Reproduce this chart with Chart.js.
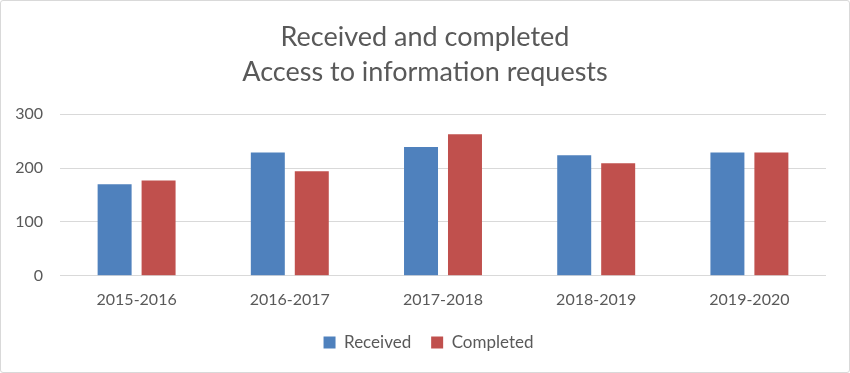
<!DOCTYPE html>
<html>
<head>
<meta charset="utf-8">
<script src="https://cdn.jsdelivr.net/npm/chart.js@4"></script>
<style>
html,body{margin:0;padding:0;background:#fff;}
#wrap{position:absolute;left:0;top:0;width:848px;height:371px;border:1px solid #d9d9d9;border-radius:3px;}
canvas{display:block;}
</style>
</head>
<body>
<div id="wrap"><canvas id="c" width="848" height="371"></canvas></div>
<script>
const categories = ["2015-2016","2016-2017","2017-2018","2018-2019","2019-2020"];
const received = [170, 229, 239, 224, 229];
const completed = [177, 194, 263, 209, 229];
const titleLines = ["Received and completed","Access to information requests"];
const yTicks = [0, 100, 200, 300];

const FONT = "Lato, 'Open Sans', sans-serif";

// Nudge title and legend boxes so they are centred like the original
const nudge = {
  id: 'nudge',
  afterLayout(chart) {
    const t = chart.titleBlock, l = chart.legend;
    if (t) { t.left += 11.5; t.right += 11.5; }
    if (l) { l.left += 15; l.right += 15; l.top -= 9; l.bottom -= 9; }
  }
};

new Chart(document.getElementById('c'), {
  type: 'bar',
  data: {
    labels: categories,
    datasets: [
      {label: 'Received', data: received, backgroundColor: '#4F81BD', barPercentage: 0.773, categoryPercentage: 0.574},
      {label: 'Completed', data: completed, backgroundColor: '#C0504D', barPercentage: 0.773, categoryPercentage: 0.574}
    ]
  },
  plugins: [nudge],
  options: {
    responsive: false,
    animation: false,
    layout: {padding: {left: 0, right: 23, top: 13, bottom: 2}},
    plugins: {
      title: {display: true, text: titleLines, color: '#595959', font: {family: FONT, size: 27, weight: 'normal', lineHeight: 1.3}, padding: {top: 6, bottom: 24}},
      legend: {position: 'bottom', labels: {boxWidth: 12, boxHeight: 12, color: '#595959', font: {family: FONT, size: 17}, padding: 20}},
      tooltip: {enabled: false}
    },
    scales: {
      x: {grid: {display: false, drawTicks: false}, border: {display: false},
          ticks: {color: '#595959', font: {family: FONT, size: 16}, padding: 14}},
      y: {min: 0, max: 300, afterBuildTicks: (s) => { s.ticks = yTicks.map(v => ({value: v})); },
          afterFit: (s) => { s.width = 59; },
          grid: {color: '#d9d9d9', lineWidth: 1, drawTicks: false}, border: {display: false},
          ticks: {color: '#595959', font: {family: FONT, size: 16}, padding: 17}}
    }
  }
});
</script>
</body>
</html>
